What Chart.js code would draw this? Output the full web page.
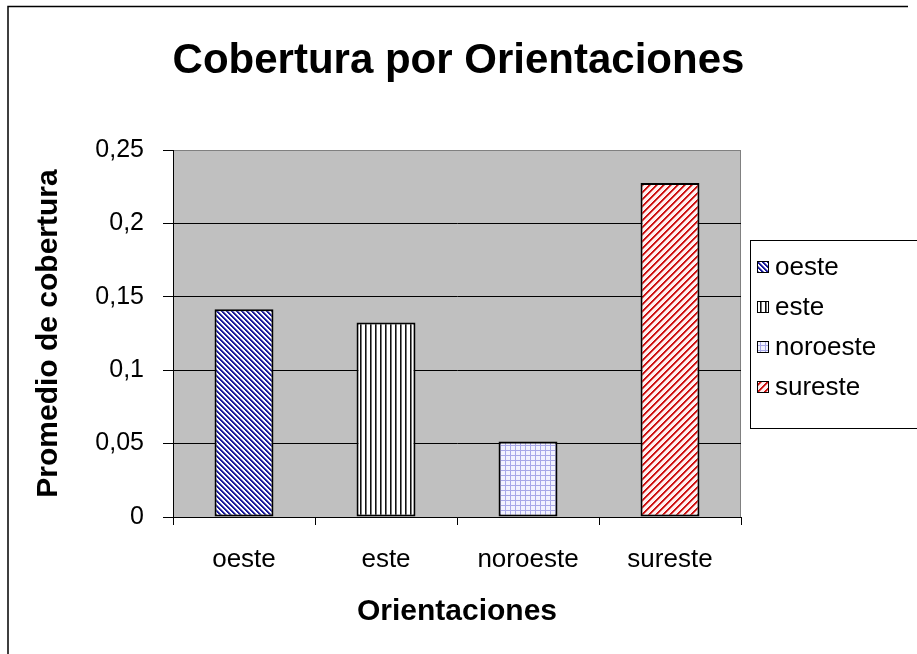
<!DOCTYPE html>
<html>
<head>
<meta charset="utf-8">
<script src="https://cdn.jsdelivr.net/npm/chart.js@4/dist/chart.umd.min.js"></script>
<style>
  body { margin: 0; background: #fff; }
  canvas { display: block; }
</style>
</head>
<body>
<canvas id="coverChart" width="917" height="654"></canvas>
<script>
const categories = ["oeste", "este", "noroeste", "sureste"];
const coverage = [0.1415, 0.1325, 0.0515, 0.2275];
const yTickLabels = ["0", "0,05", "0,1", "0,15", "0,2", "0,25"];

const FONT = "'Liberation Sans', Arial, sans-serif";

// pixel tile patterns, Excel style
function makePattern(size, painter) {
  const c = document.createElement('canvas');
  c.width = size; c.height = size;
  const g = c.getContext('2d');
  for (let y = 0; y < size; y++) {
    for (let x = 0; x < size; x++) {
      g.fillStyle = painter(x, y);
      g.fillRect(x, y, 1, 1);
    }
  }
  return g.createPattern(c, 'repeat');
}

const patterns = [
  makePattern(5, (x, y) => {
    const d = ((x - y) % 5 + 5) % 5;
    return d < 2 ? '#1a1a9a' : (d == 2 ? '#8080c8' : '#ffffff');
  }),
  makePattern(5, (x, y) => x == 0 ? '#111111' : (x == 1 ? '#777777' : '#ffffff')),
  makePattern(5, (x, y) => (x == 0 || y == 0) ? '#a8a8e8' : '#f2f2ff'),
  makePattern(7, (x, y) => {
    const d = (x + y) % 7;
    return d < 2 ? '#cc1111' : (d == 2 ? '#e87878' : '#fff0f0');
  })
];

const plotBg = {
  id: 'plotBg',
  beforeDraw(chart) {
    const {ctx, chartArea: a} = chart;
    ctx.save();
    ctx.fillStyle = '#c0c0c0';
    ctx.fillRect(a.left, a.top, a.right - a.left, a.bottom - a.top);
    ctx.strokeStyle = '#808080';
    ctx.lineWidth = 1;
    ctx.beginPath();
    ctx.moveTo(a.left, a.top + 0.5);
    ctx.lineTo(a.right - 0.5, a.top + 0.5);
    ctx.lineTo(a.right - 0.5, a.bottom);
    ctx.stroke();
    ctx.restore();
  },
  afterDraw(chart) {
    const ctx = chart.ctx;
    ctx.save();
    // outer frame
    ctx.strokeStyle = '#000';
    ctx.lineWidth = 1.5;
    ctx.beginPath();
    ctx.moveTo(8, 660);
    ctx.lineTo(8, 6.5);
    ctx.lineTo(908, 6.5);
    ctx.stroke();
    // legend box
    ctx.lineWidth = 1;
    ctx.strokeRect(750.5, 240.5, 170, 188);
    ctx.font = '26px ' + FONT;
    ctx.textBaseline = 'middle';
    categories.forEach((name, i) => {
      const y = 267 + i * 40;
      ctx.fillStyle = patterns[i];
      ctx.fillRect(757, y - 6, 12, 12);
      ctx.strokeStyle = '#000';
      ctx.strokeRect(757.5, y - 5.5, 11, 11);
      ctx.fillStyle = '#000';
      ctx.fillText(name, 775, y + 1);
    });
    ctx.restore();
  }
};

new Chart(document.getElementById('coverChart'), {
  type: 'bar',
  data: {
    labels: categories,
    datasets: [{
      label: 'Promedio de cobertura',
      data: coverage,
      backgroundColor: patterns,
      borderColor: '#000',
      borderWidth: 2,
      borderSkipped: false,
      categoryPercentage: 1,
      barPercentage: 0.415
    }]
  },
  plugins: [plotBg],
  options: {
    responsive: false,
    animation: false,
    events: [],
    layout: { padding: 0 },
    plugins: {
      legend: { display: false },
      tooltip: { enabled: false },
      title: {
        display: true,
        text: 'Cobertura por Orientaciones',
        color: '#000',
        font: { family: FONT, size: 42, weight: 'bold' },
        padding: { top: 36, bottom: 63.6 }
      }
    },
    scales: {
      x: {
        afterFit: s => { s.height = 137; },
        grid: { drawOnChartArea: false, drawTicks: true, tickLength: 8, color: '#000' },
        border: { display: true, color: '#000', width: 1 },
        ticks: { color: '#000', padding: 19, font: { family: FONT, size: 26 } },
        title: {
          display: true, text: 'Orientaciones', color: '#000',
          font: { family: FONT, size: 30, weight: 'bold' },
          padding: { top: 0, bottom: 24 }
        }
      },
      y: {
        min: 0, max: 0.25,
        afterFit: s => { s.width = 173; },
        grid: {
          color: ctx => ctx.tick && ctx.tick.value > 0.24 ? '#808080' : '#000',
          tickColor: '#000',
          tickLength: 10
        },
        border: { display: true, color: '#000', width: 1 },
        ticks: {
          stepSize: 0.05, color: '#000', padding: 19,
          font: { family: FONT, size: 25 },
          callback: (v, i) => yTickLabels[i]
        },
        title: {
          display: true, text: 'Promedio de cobertura', color: '#000',
          font: { family: FONT, size: 30, weight: 'bold' },
          padding: { top: 31, bottom: 0 }
        }
      },
      // empty right-hand strip that leaves room for the legend box
      legendSpace: {
        type: 'linear', position: 'right', display: true,
        afterFit: s => { s.width = 176; },
        grid: { display: false, drawTicks: false },
        border: { display: false },
        ticks: { display: false }
      }
    }
  }
});
</script>
</body>
</html>
